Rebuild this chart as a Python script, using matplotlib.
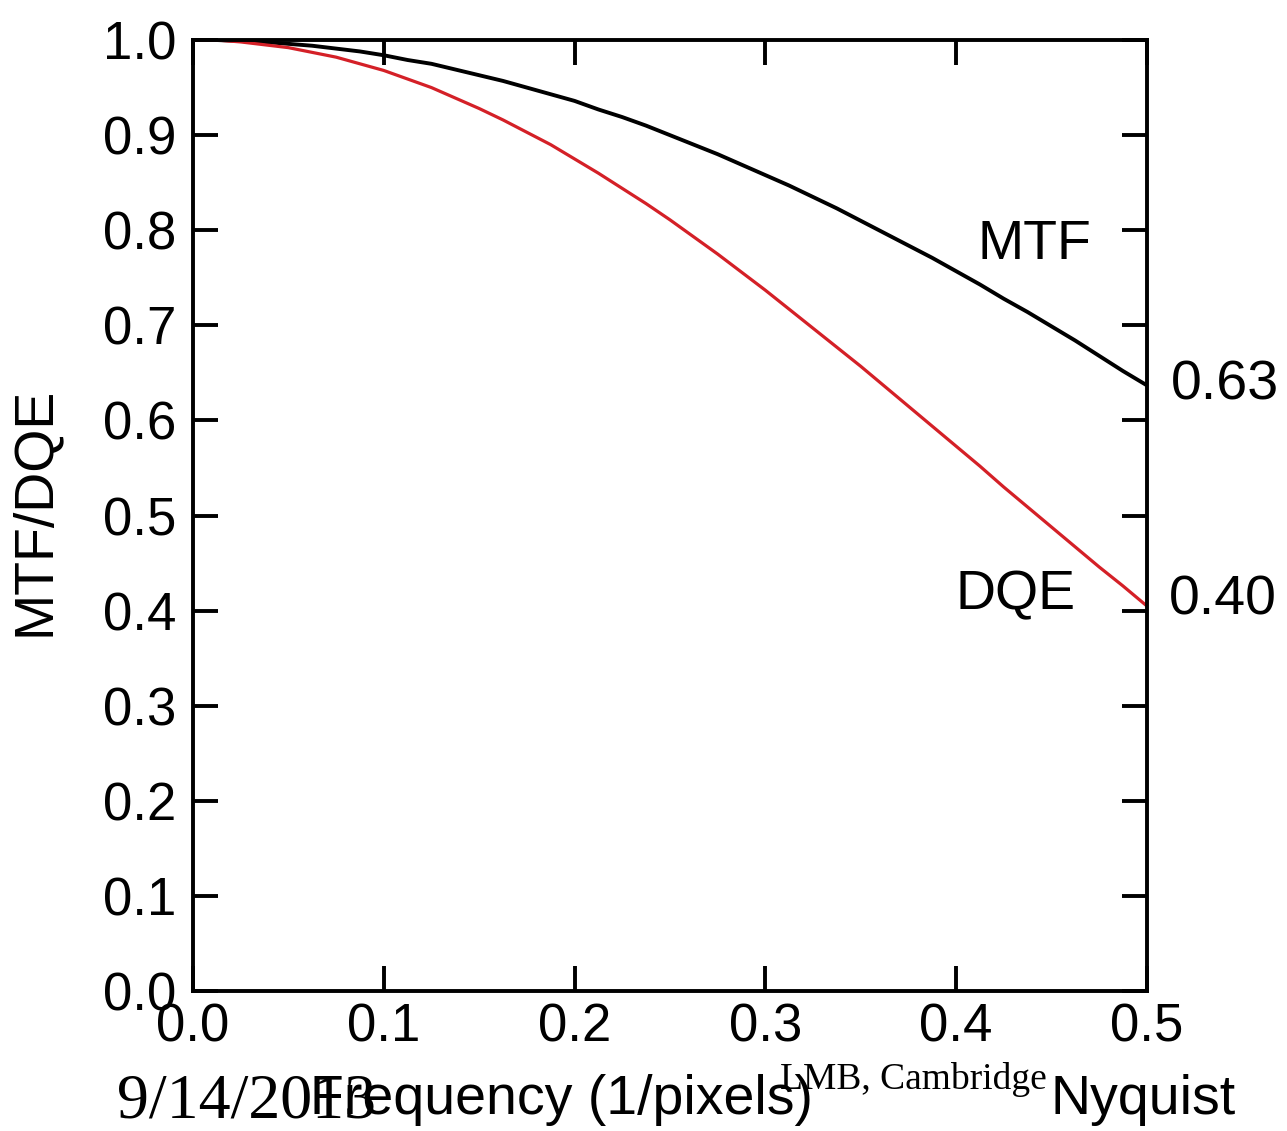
import matplotlib
matplotlib.use("Agg")
import matplotlib.pyplot as plt

# values
freq = [0.0, 0.0125, 0.025, 0.0375, 0.05, 0.0625, 0.075, 0.0875, 0.1, 0.1125,
        0.125, 0.1375, 0.15, 0.1625, 0.175, 0.1875, 0.2, 0.2125, 0.225, 0.2375,
        0.25, 0.2625, 0.275, 0.2875, 0.3, 0.3125, 0.325, 0.3375, 0.35, 0.3625,
        0.375, 0.3875, 0.4, 0.4125, 0.425, 0.4375, 0.45, 0.4625, 0.475, 0.4875, 0.5]
mtf = [1.0, 1.0, 0.999, 0.998, 0.996, 0.994, 0.991, 0.988, 0.984, 0.979,
       0.975, 0.969, 0.963, 0.957, 0.950, 0.943, 0.936, 0.927, 0.919, 0.910,
       0.900, 0.890, 0.880, 0.869, 0.858, 0.847, 0.835, 0.823, 0.810, 0.797,
       0.784, 0.771, 0.757, 0.743, 0.728, 0.714, 0.699, 0.684, 0.668, 0.652, 0.637]
dqe = [1.0, 1.0, 0.998, 0.995, 0.992, 0.987, 0.982, 0.975, 0.968, 0.959,
       0.950, 0.939, 0.928, 0.916, 0.903, 0.890, 0.875, 0.860, 0.844, 0.828,
       0.811, 0.793, 0.775, 0.756, 0.737, 0.717, 0.697, 0.677, 0.657, 0.636,
       0.615, 0.594, 0.573, 0.552, 0.530, 0.509, 0.488, 0.467, 0.446, 0.426, 0.405]
xticks = [0.0, 0.1, 0.2, 0.3, 0.4, 0.5]
yticks = [0.0, 0.1, 0.2, 0.3, 0.4, 0.5, 0.6, 0.7, 0.8, 0.9, 1.0]

sans = "Liberation Sans"
serif = "Liberation Serif"

fig = plt.figure(figsize=(12.87, 11.31), dpi=100)
ax = fig.add_axes([0.150, 0.1238, 0.741, 0.8408])

ax.plot(freq, mtf, color="black", lw=2.8, solid_capstyle="butt")
ax.plot(freq, dqe, color="#d42027", lw=2.3, solid_capstyle="butt")

ax.set_xlim(0, 0.5)
ax.set_ylim(0, 1.0)
ax.set_xticks(xticks)
ax.set_yticks(yticks)
ax.set_xticklabels([f"{v:.1f}" for v in xticks], family=sans, fontsize=38)
ax.set_yticklabels([f"{v:.1f}" for v in yticks], family=sans, fontsize=38)
ax.tick_params(direction="in", length=18, width=2.8, top=True, right=True)
ax.tick_params(axis="x", pad=8)
ax.tick_params(axis="y", pad=12)
for s in ax.spines.values():
    s.set_linewidth(2.8)

ax.set_ylabel("MTF/DQE", family=sans, fontsize=40, va="center")
ax.yaxis.set_label_coords(-0.166, 0.504)

ax.text(0.441, 0.784, "MTF", family=sans, fontsize=40, ha="center", va="center")
ax.text(0.431, 0.416, "DQE", family=sans, fontsize=40, ha="center", va="center")
ax.text(0.5126, 0.637, "0.63", family=sans, fontsize=40, ha="left", va="center",
        clip_on=False)
ax.text(0.5115, 0.411, "0.40", family=sans, fontsize=40, ha="left", va="center",
        clip_on=False)

fig.text(0.436, 0.015, "Frequency (1/pixels)", family=sans, fontsize=40,
         ha="center", va="baseline")
fig.text(0.091, 0.012, "9/14/2013", family=serif, fontsize=46,
         ha="left", va="baseline")
fig.text(0.606, 0.037, "LMB, Cambridge", family=serif, fontsize=27,
         ha="left", va="baseline")
fig.text(0.816, 0.015, "Nyquist", family=sans, fontsize=40,
         ha="left", va="baseline")

fig.savefig("out.png", dpi=100)
